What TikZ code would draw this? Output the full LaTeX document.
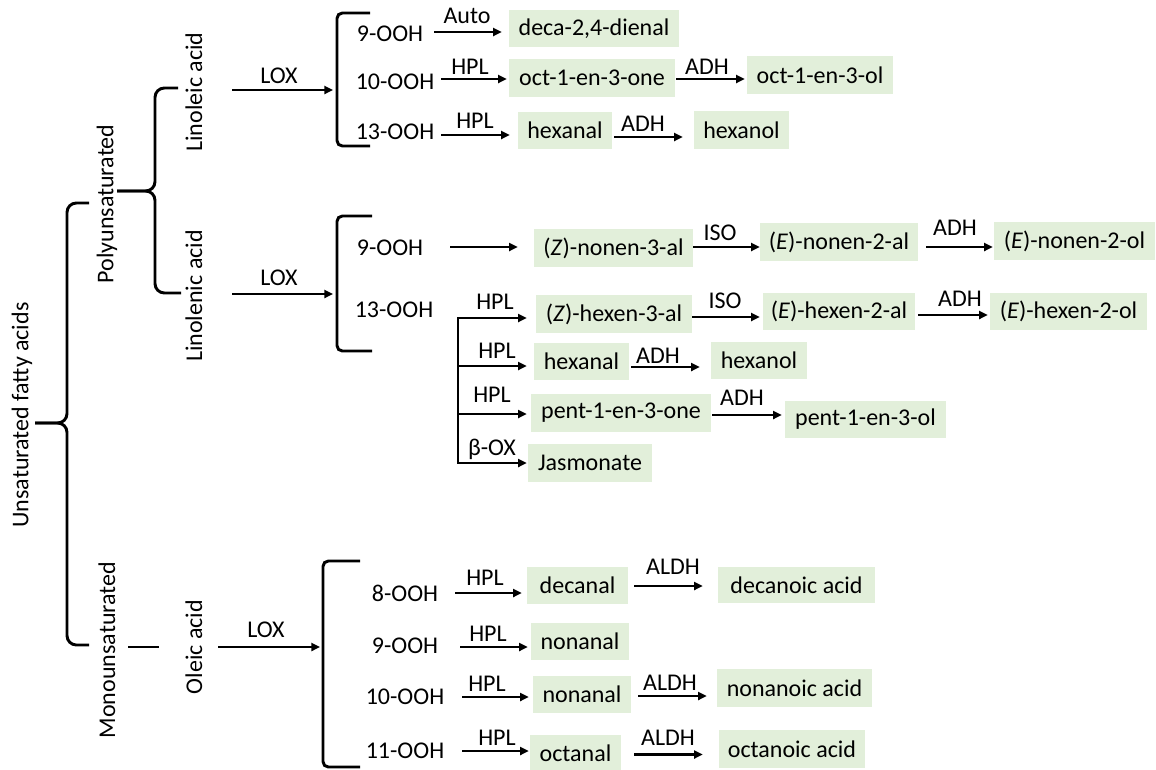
\documentclass[tikz,border=0pt]{standalone}
\usepackage{fontspec}
\setmainfont{Carlito}
\usetikzlibrary{arrows.meta,calc}
\definecolor{boxgreen}{RGB}{226,239,218}
\tikzset{
  txt/.style={inner sep=0pt, font=\fontsize{18}{21}\selectfont},
  arr/.style={line width=2.1pt, -{Triangle[length=6.5pt,width=6pt]}},
  plain/.style={line width=2.1pt},
  brk/.style={line width=2.2pt, rounded corners=4pt},
  brace/.style={line width=2.2pt, rounded corners=7pt},
  pbox/.style={txt, fill=boxgreen},
  ooh/.style={txt},
  lab/.style={txt},
  rot/.style={txt, rotate=90},
}
\newcommand\pb[6]{\node[pbox, minimum width={(#3-#2)*0.75pt}, minimum height={(#5-#4)*0.75pt}] (#1) at ({(#2+#3)/2},{(#4+#5)/2}) {#6};}
\newcommand\cn[5]{\draw[arr, shorten <={(#3)*0.75pt}, shorten >={(#4)*0.75pt}] ($(#1.east)+(0,#5)$) -- ($(#1.east -| #2.west)+(0,#5)$);}
\begin{document}
\begin{tikzpicture}[x=0.75pt,y=-0.75pt]
\useasboundingbox (0,0) rectangle (1156,769);

% rotated category labels
\node[rot] (uns)  at (22,415)  {Unsaturated fatty acids};
\node[rot] (poly) at (107,204) {Polyunsaturated};
\node[rot] (mono) at (107,650) {Monounsaturated};
\node[rot] (lin1) at (194,92)  {Linoleic acid};
\node[rot] (lin2) at (194,296) {Linolenic acid};
\node[rot] (ole)  at (194,647) {Oleic acid};

% curly braces
\draw[brace] (89,203) -- (67,203) -- (67,423) -- (35,423);
\draw[brace] (35,423) -- (67,423) -- (67,645) -- (89,645);
\draw[brace] (178,88) -- (155,88) -- (155,191) -- (117,191);
\draw[brace] (117,191) -- (155,191) -- (155,293) -- (181,293);

% square brackets
\draw[brk] (370,13) -- (337,13) -- (337,146) -- (370,146);
\draw[brk] (372,216) -- (337,216) -- (337,351) -- (372,351);
\draw[brk] (360,561) -- (323,561) -- (323,767) -- (360,767);

% LOX arrows
\coordinate (bk1) at (333,90);
\coordinate (bk2) at (333,294);
\coordinate (bk3) at (320,647);
\draw[arr, shorten <=38*0.75pt] (lin1 |- bk1) -- (bk1);
\draw[arr, shorten <=38*0.75pt] (lin2 |- bk2) -- (bk2);
\draw[arr, shorten <=24*0.75pt] (ole |- bk3) -- (bk3);
\draw[plain, shorten <=21*0.75pt, shorten >=26*0.75pt] (mono |- ole) -- (ole);
\node[lab] (lox1) at (279,76)  {LOX};
\node[lab] (lox2) at (279,278) {LOX};
\node[lab] (lox3) at (266,630) {LOX};

% hydroperoxides
\node[ooh] (n9a)  at (390,34)  {9-OOH};
\node[ooh] (n10a) at (395,82)  {10-OOH};
\node[ooh] (n13a) at (395,132) {13-OOH};
\node[ooh] (n9b)  at (390,248) {9-OOH};
\node[ooh] (n13b) at (394,310) {13-OOH};
\node[ooh] (o8)   at (405,593) {8-OOH};
\node[ooh] (o9)   at (405,646) {9-OOH};
\node[ooh] (o10)  at (405,697) {10-OOH};
\node[ooh] (o11)  at (405,751) {11-OOH};

% products: linoleic
\pb{deca}{509}{679}{10}{47}{deca-2,4-dienal}
\pb{oct1}{509}{675}{59}{97}{oct-1-en-3-one}
\pb{oct2}{747}{893}{56}{94}{oct-1-en-3-ol}
\pb{hexa1}{518}{612}{112}{149}{hexanal}
\pb{hexo1}{694}{789}{111}{149}{hexanol}
% products: linolenic
\pb{znon}{534}{693}{229}{267}{(\textit{Z})-nonen-3-al}
\pb{enon}{760}{918}{223}{261}{(\textit{E})-nonen-2-al}
\pb{enonol}{994}{1155}{222}{260}{(\textit{E})-nonen-2-ol}
\pb{zhex}{536}{692}{295}{333}{(\textit{Z})-hexen-3-al}
\pb{ehex}{763}{915}{293}{330}{(\textit{E})-hexen-2-al}
\pb{ehexol}{990}{1147}{293}{330}{(\textit{E})-hexen-2-ol}
\pb{hexa2}{534}{629}{343}{380}{hexanal}
\pb{hexo2}{711}{807}{342}{379}{hexanol}
\pb{pent1}{531}{711}{394}{432}{pent-1-en-3-one}
\pb{pent2}{785}{946}{401}{438}{pent-1-en-3-ol}
\pb{jas}{528}{652}{444}{482}{Jasmonate}
% products: oleic
\pb{decal}{527}{628}{567}{604}{decanal}
\pb{decac}{718}{875}{567}{603}{decanoic acid}
\pb{non1}{531}{629}{623}{660}{nonanal}
\pb{non2}{533}{631}{676}{713}{nonanal}
\pb{nonac}{717}{872}{669}{707}{nonanoic acid}
\pb{octal}{530}{621}{735}{771}{octanal}
\pb{octac}{719}{865}{730}{768}{octanoic acid}

% connectors
\cn{n9a}{deca}{11}{7}{-2}
\cn{n10a}{oct1}{7}{2}{-3}
\cn{n13a}{hexa1}{7}{8}{3}
\cn{oct1}{oct2}{1}{2}{1}
\cn{hexa1}{hexo1}{2}{11}{6.5}
\cn{n9b}{znon}{27}{16}{-1}
\cn{znon}{enon}{0}{0}{-1}
\cn{enon}{enonol}{8}{1}{5}
\cn{zhex}{ehex}{0}{3}{3}
\cn{ehex}{ehexol}{3}{2}{3.5}
\cn{hexa2}{hexo2}{2}{11}{5.5}
\cn{pent1}{pent2}{1}{3}{2}
\cn{o8}{decal}{17}{5}{0}
\cn{decal}{decac}{6}{15}{0.5}
\cn{o9}{non1}{22}{3}{1}
\cn{o10}{non2}{18}{4}{0}
\cn{non2}{nonac}{7}{10}{1.5}
\cn{o11}{octal}{18}{1}{0}
\cn{octal}{octac}{13}{16}{1.5}

% branching from 13-OOH (linolenic)
\coordinate (br1) at (458,318);
\coordinate (br2) at (458,366);
\coordinate (br3) at (458,414);
\coordinate (br4) at (458,463);
\draw[plain, line cap=rect] (br1) -- (br4);
\draw[arr, shorten >=9*0.75pt] (br1) -- (br1 -| zhex.west);
\draw[arr, shorten >=7*0.75pt] (br2) -- (br2 -| hexa2.west);
\draw[arr, shorten >=4*0.75pt] (br3) -- (br3 -| pent1.west);
\draw[arr, shorten >=1*0.75pt] (br4) -- (br4 -| jas.west);

% enzyme labels
\node[lab] (l1)  at (467,16)  {Auto};
\node[lab] (l2)  at (470,67)  {HPL};
\node[lab] (l3)  at (475,121) {HPL};
\node[lab] (l4)  at (707,67)  {ADH};
\node[lab] (l5)  at (643,124) {ADH};
\node[lab] (l6)  at (720,233) {ISO};
\node[lab] (l7)  at (955,228) {ADH};
\node[lab] (l8)  at (725,301) {ISO};
\node[lab] (l9)  at (960,299) {ADH};
\node[lab] (l10) at (495,302) {HPL};
\node[lab] (l11) at (497,351) {HPL};
\node[lab] (l12) at (658,356) {ADH};
\node[lab] (l13) at (492,395) {HPL};
\node[lab] (l14) at (742,398) {ADH};
\node[lab] (l15) at (492,449) {β-OX};
\node[lab] (l16) at (485,578) {HPL};
\node[lab] (l17) at (673,567) {ALDH};
\node[lab] (l18) at (488,634) {HPL};
\node[lab] (l19) at (487,684) {HPL};
\node[lab] (l20) at (670,683) {ALDH};
\node[lab] (l21) at (497,738) {HPL};
\node[lab] (l22) at (668,738) {ALDH};
\end{tikzpicture}
\end{document}
